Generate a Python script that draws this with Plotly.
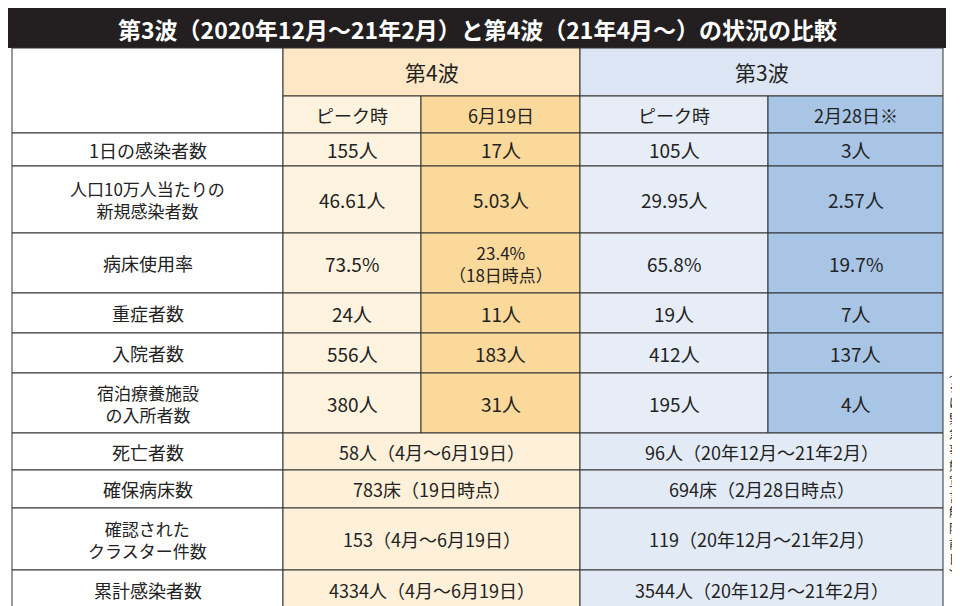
import plotly.graph_objects as go

title = "第3波（2020年12月～21年2月）と第4波（21年4月～）の状況の比較"
waves = ["第4波", "第3波"]
sub_heads = ["ピーク時", "6月19日", "ピーク時", "2月28日※"]
row_labels = ["1日の感染者数", "人口10万人当たりの<br>新規感染者数", "病床使用率", "重症者数",
              "入院者数", "宿泊療養施設<br>の入所者数", "死亡者数", "確保病床数",
              "確認された<br>クラスター件数", "累計感染者数"]
w4_peak = ["155人", "46.61人", "73.5%", "24人", "556人", "380人"]
w4_now = ["17人", "5.03人", "23.4%<br>（18日時点）", "11人", "183人", "31人"]
w3_peak = ["105人", "29.95人", "65.8%", "19人", "412人", "195人"]
w3_end = ["3人", "2.57人", "19.7%", "7人", "137人", "4人"]
w4_merged = ["58人（4月～6月19日）", "783床（19日時点）", "153（4月～6月19日）", "4334人（4月～6月19日）"]
w3_merged = ["96人（20年12月～21年2月）", "694床（2月28日時点）", "119（20年12月～21年2月）", "3544人（20年12月～21年2月）"]
side_note = "（※は緊急事態宣言解除前日）"

# layout grid (pixels)
xs = [4, 275, 413, 572, 760, 935]
ys = [40, 88, 125, 158, 225, 285, 325, 365, 425, 462, 500, 562, 602]
col_colors = ["#ffffff", "#fef3df", "#fbd99a", "#e6edf7", "#a8c5e6"]
merged_colors = ["#fef0d9", "#e2eaf6"]
head_colors = ["#fde7c4", "#dbe5f3"]

shapes, ann = [], []
FONT = "Noto Sans CJK JP"

def cell(x0, x1, y0, y1, fill, text, size=19):
    shapes.append(dict(type="rect", x0=x0, x1=x1, y0=y0, y1=y1, fillcolor=fill,
                       line=dict(color="#333333", width=1), layer="below"))
    if text:
        ann.append(dict(x=(x0 + x1) / 2, y=(y0 + y1) / 2, text=text, showarrow=False,
                        font=dict(size=size, color="#222222", family=FONT)))

# title bar
shapes.append(dict(type="rect", x0=0, x1=938, y0=0, y1=40, fillcolor="#231f20", line_width=0, layer="below"))
ann.append(dict(x=469, y=21, text="<b>" + title + "</b>", showarrow=False,
                font=dict(size=23, color="white", family=FONT)))

# headers
cell(xs[0], xs[1], ys[0], ys[2], "#ffffff", "")
cell(xs[1], xs[3], ys[0], ys[1], head_colors[0], waves[0], 21)
cell(xs[3], xs[5], ys[0], ys[1], head_colors[1], waves[1], 21)
for i, t in enumerate(sub_heads):
    cell(xs[i + 1], xs[i + 2], ys[1], ys[2], col_colors[i + 1], t, 18)

cols = [w4_peak, w4_now, w3_peak, w3_end]
for r, lab in enumerate(row_labels):
    y0, y1 = ys[r + 2], ys[r + 3]
    cell(xs[0], xs[1], y0, y1, "#ffffff", lab, 17 if "<br>" in lab else 18)
    if r < 6:
        for c in range(4):
            txt = cols[c][r]
            cell(xs[c + 1], xs[c + 2], y0, y1, col_colors[c + 1], txt, 17 if "<br>" in txt else 19)
    else:
        cell(xs[1], xs[3], y0, y1, merged_colors[0], w4_merged[r - 6], 18)
        cell(xs[3], xs[5], y0, y1, merged_colors[1], w3_merged[r - 6], 18)

# vertical side note
ann.append(dict(x=947, y=465, text="<br>".join(side_note.replace("（", "︵").replace("）", "︶")),
                showarrow=False, xanchor="center", width=20,
                font=dict(size=12, color="#222222", family=FONT)))

fig = go.Figure()
fig.update_layout(width=960, height=606, autosize=False, margin=dict(l=0, r=0, t=0, b=0, pad=0),
                  plot_bgcolor="white", paper_bgcolor="white",
                  xaxis=dict(range=[0, 960], visible=False, fixedrange=True),
                  yaxis=dict(range=[606, 0], visible=False, fixedrange=True),
                  shapes=shapes, annotations=ann, showlegend=False)
fig.write_html("out.html")
